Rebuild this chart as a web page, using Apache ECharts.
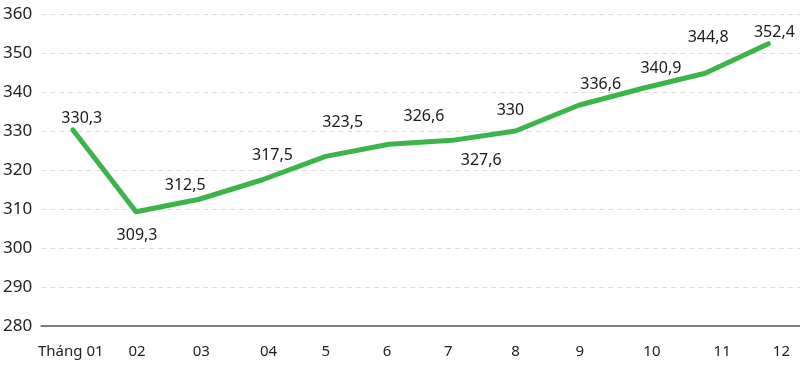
<!DOCTYPE html>
<html>
<head>
<meta charset="utf-8">
<script src="https://cdn.jsdelivr.net/npm/echarts@6/dist/echarts.min.js"></script>
<style>
html,body{margin:0;padding:0;background:#fff;}
#chart{width:800px;height:368px;}
</style>
</head>
<body>
<div id="chart"></div>
<script>
var categories = ['Tháng 01', '02', '03', '04', '5', '6', '7', '8', '9', '10', '11', '12'];
var values = [330.3, 309.3, 312.5, 317.5, 323.5, 326.6, 327.6, 330, 336.6, 340.9, 344.8, 352.4];
var yTicks = { min: 280, max: 360, interval: 10 };

// label placement per point (layout only)
var labelLayout = [
  ['top', [9, 3]], ['bottom', [1, 9]], ['top', [-14, 1]], ['top', [10, -10]],
  ['top', [17, -19]], ['top', [35, -13]], ['bottom', [29, 6]], ['top', [-5, -6]],
  ['top', [22, -6]], ['top', [19, -6]], ['top', [3, -21]], ['top', [6, 3]]
];
// horizontal nudge of x axis labels (layout only)
var xLabelShift = [-2, 1, 2, 6, 0, -2, -4, 0, 1, 10, 17, 13];

var seriesData = values.map(function (v, i) {
  return {
    value: v,
    label: { show: true, position: labelLayout[i][0], offset: labelLayout[i][1] }
  };
});

var rich = {};
xLabelShift.forEach(function (s, i) {
  rich['c' + i] = {
    fontSize: 15, color: '#222222', fontFamily: 'Noto Sans',
    padding: s >= 0 ? [0, 0, 0, 2 * s] : [0, -2 * s, 0, 0]
  };
});

var chart = echarts.init(document.getElementById('chart'), null, { renderer: 'canvas' });
chart.setOption({
  animation: false,
  backgroundColor: '#ffffff',
  textStyle: { fontFamily: 'Noto Sans' },
  grid: { left: 38, right: 0, top: 14, bottom: 42 },
  xAxis: {
    type: 'category',
    data: categories,
    boundaryGap: true,
    axisLine: { show: true, lineStyle: { color: '#555555', width: 1.5 } },
    axisTick: { show: false },
    axisLabel: {
      interval: 0, color: '#222222', fontSize: 15, margin: 18, fontFamily: 'Noto Sans',
      formatter: function (v, i) { return '{c' + i + '|' + v + '}'; },
      rich: rich
    }
  },
  yAxis: {
    type: 'value',
    min: yTicks.min,
    max: yTicks.max,
    interval: yTicks.interval,
    axisLine: { show: false },
    axisTick: { show: false },
    axisLabel: { color: '#222222', fontSize: 17, margin: 9, fontFamily: 'Noto Sans' },
    splitLine: { show: true, lineStyle: { color: '#dddddd', type: [5, 4], width: 1 } }
  },
  series: [{
    type: 'line',
    data: seriesData,
    symbol: 'circle',
    symbolSize: 3,
    showSymbol: true,
    lineStyle: { color: '#3cb44b', width: 5, cap: 'round', join: 'round' },
    itemStyle: { color: '#3cb44b' },
    label: {
      show: true,
      color: '#1a1a1a',
      fontSize: 16,
      fontFamily: 'Noto Sans',
      formatter: function (p) { return String(p.value).replace('.', ','); }
    }
  }]
});
</script>
</body>
</html>
